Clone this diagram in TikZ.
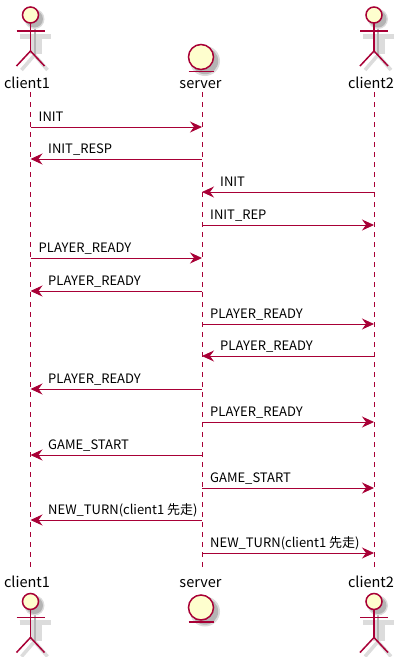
\documentclass[tikz,border=0pt]{standalone}
\usepackage{fontspec}
\setmainfont{Noto Sans CJK SC}
\usetikzlibrary{arrows.meta}
\definecolor{umlline}{HTML}{A80036}
\definecolor{umlfill}{HTML}{FEFECE}
\definecolor{umlshadow}{HTML}{B4B4B4}
\definecolor{umlshadowsoft}{HTML}{DCDCDC}
\tikzset{
  lifeline/.style={draw=umlline,line width=0.8pt,dash pattern=on 5pt off 5pt},
  msg/.style={draw=umlline,line width=0.9pt,-{Stealth[length=12pt,width=11pt,inset=4pt]}},
  msglabel/.style={anchor=base west,inner sep=0pt,font=\fontsize{13}{13}\selectfont,text=black},
  partlabel/.style={anchor=base,inner sep=0pt,font=\fontsize{14.5}{14.5}\selectfont,text=black},
  actorfig/.pic={
    % Schatten
    \draw[umlshadowsoft,line width=5pt] (-11,5) -- (20,5);
    \draw[umlshadowsoft,line width=3.5pt] (-9,39) -- (4,24) -- (17,39);
    \draw[umlshadowsoft,line width=12pt] (5,6) -- (5,23);
    \draw[umlshadow,line width=2pt] (4,-4) -- (4,24);
    \path[fill=umlshadowsoft] (4,-12) circle [radius=10pt];
    \path[fill=umlshadow] (4,-12) circle [radius=8.5pt];
    % Figur
    \path[draw=umlline,line width=1.5pt,fill=umlfill] (0,-16) circle [radius=8pt];
    \draw[umlline,line width=1.5pt] (0,-8) -- (0,20) (-14,0) -- (14,0);
    \draw[umlline,line width=1.5pt] (-14,35) -- (0,20) -- (14,35);
  },
  entityfig/.pic={
    % Schatten
    \path[fill=umlshadowsoft] (4,4) circle [radius=15pt];
    \path[fill=umlshadow] (4,4) circle [radius=13.2pt];
    % Figur
    \path[draw=umlline,line width=1.5pt,fill=umlfill] (0,0) circle [radius=12.5pt];
    \draw[umlline,line width=1.5pt] (-12.5,14.3) -- (12.5,14.3);
  }
}
\begin{document}
\begin{tikzpicture}[x=1pt,y=-1pt]
  \useasboundingbox (0,0) rectangle (400,657);

  % Lebenslinien
  \foreach \p/\x in {cone/30.5,srv/202,ctwo/374} {
    \coordinate (\p-top) at (\x,92);
    \coordinate (\p-bot) at (\x,568);
    \draw[lifeline] (\p-top) -- (\p-bot);
  }

  % Teilnehmer oben und unten
  \pic at (30.5,31) {actorfig};
  \pic at (374,31) {actorfig};
  \pic at (201,57) {entityfig};
  \pic at (30.5,617.5) {actorfig};
  \pic at (374,617.5) {actorfig};
  \pic at (201,607.5) {entityfig};
  \node[partlabel] (clientonetop) at (27,88) {client1};
  \node[partlabel] (servertop) at (200.5,88) {server};
  \node[partlabel] (clienttwotop) at (371,88) {client2};
  \node[partlabel] (clientonebot) at (27,587) {client1};
  \node[partlabel] (serverbot) at (200.5,587) {server};
  \node[partlabel] (clienttwobot) at (371,587) {client2};

  % Nachrichten
  \foreach \n/\y/\a/\b/\tx/\t in {
    1/127/cone/srv/38.5/INIT,
    2/159/srv/cone/48/INIT\_RESP,
    3/192/ctwo/srv/220/INIT,
    4/225/srv/ctwo/210/INIT\_REP,
    5/258/cone/srv/38.5/PLAYER\_READY,
    6/291/srv/cone/48/PLAYER\_READY,
    7/324/srv/ctwo/210/PLAYER\_READY,
    8/356/ctwo/srv/220/PLAYER\_READY,
    9/389/srv/cone/48/PLAYER\_READY,
    10/422/srv/ctwo/210/PLAYER\_READY,
    11/455/srv/cone/48/GAME\_START,
    12/488/srv/ctwo/210/GAME\_START,
    13/520/srv/cone/48/NEW\_TURN(client1 先走),
    14/553/srv/ctwo/210/NEW\_TURN(client1 先走)} {
    \coordinate (from\n) at (\a-top |- 0,\y);
    \coordinate (to\n) at (\b-top |- 0,\y);
    \draw[msg] (from\n) -- (to\n);
    \node[msglabel] (label\n) at (\tx,\y-5.5) {\t};
  }
\end{tikzpicture}
\end{document}
